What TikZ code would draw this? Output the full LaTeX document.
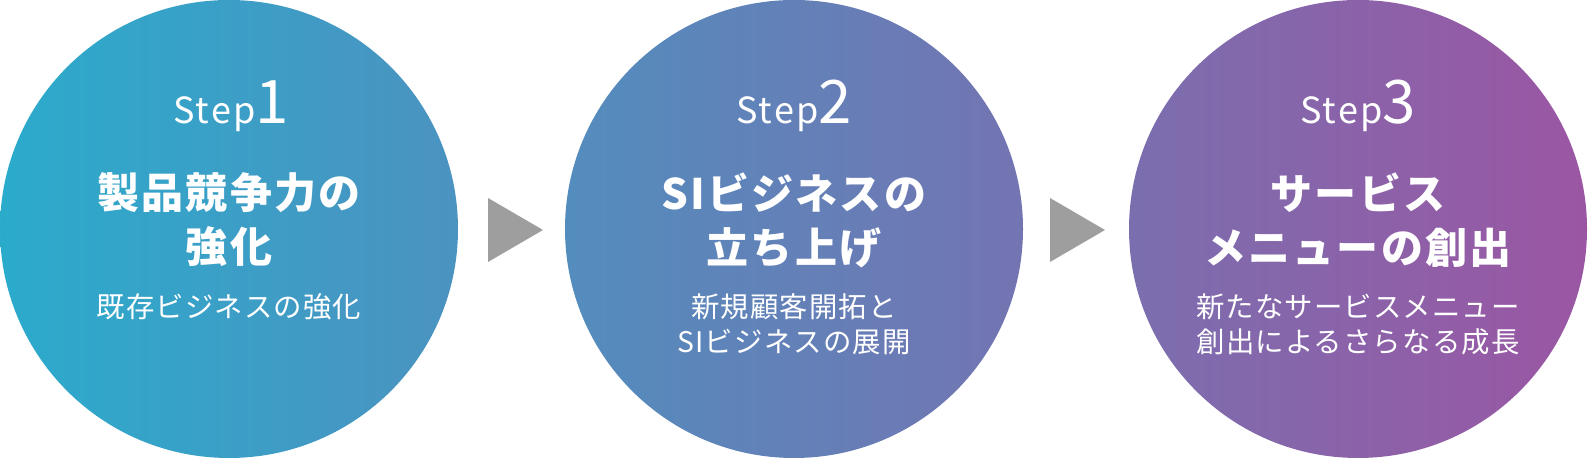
\documentclass[tikz,border=0pt]{standalone}
\usepackage{fontspec}
\setmainfont{Noto Sans CJK JP}
\usepackage{tikz}
\usetikzlibrary{calc}

\definecolor{stepcyan}{HTML}{2BABCC}
\definecolor{steppurple}{HTML}{9B56A3}
\definecolor{arrowgray}{HTML}{9E9E9E}

\newcommand{\stepno}[1]{{\fontsize{18}{18}\selectfont\addfontfeatures{LetterSpace=6}Step}{\fontsize{30}{30}\selectfont #1}}

\begin{document}
\begin{tikzpicture}[x=0.5pt,y=0.5pt,
  steplabel/.style={text=white,inner sep=0pt,anchor=base},
  titletext/.style={text=white,inner sep=0pt,anchor=north,align=center,
    font=\fontsize{21}{27}\selectfont\bfseries\addfontfeatures{LetterSpace=5}},
  subtext/.style={text=white,inner sep=0pt,anchor=north,align=center,
    font=\fontsize{14.2}{17.5}\selectfont\addfontfeatures{LetterSpace=4}}]

  \useasboundingbox (0,0) rectangle (1588,458);

  % circle centres
  \coordinate (c1) at (229,229);
  \coordinate (c2) at (794,229);
  \coordinate (c3) at (1358,229);

  % one gradient running through all three circles
  \shade[left color=stepcyan,right color=steppurple]
    (c1) circle[radius=229] (c2) circle[radius=229] (c3) circle[radius=229];

  % grey arrow heads between the steps
  \foreach \x in {488,1050} {
    \fill[arrowgray] (\x,260) -- ++(55,-32) -- ++(-55,-32) -- cycle;
  }

  % step 1
  \node[steplabel] (step1) at (231,334.5) {\stepno{1}};
  \node[titletext] (title1) at (229,286) {製品競争力の\\強化};
  \node[subtext] (sub1) at (229,165) {既存ビジネスの強化};

  % step 2
  \node[steplabel] (step2) at (794,334.5) {\stepno{2}};
  \node[titletext] (title2) at (794,286) {SIビジネスの\\立ち上げ};
  \node[subtext] (sub2) at (794,165) {新規顧客開拓と\\SIビジネスの展開};

  % step 3
  \node[steplabel] (step3) at (1358,334.5) {\stepno{3}};
  \node[titletext] (title3) at (1358,286) {サービス\\メニューの創出};
  \node[subtext] (sub3) at (1358,165) {新たなサービスメニュー\\創出によるさらなる成長};

\end{tikzpicture}
\end{document}
